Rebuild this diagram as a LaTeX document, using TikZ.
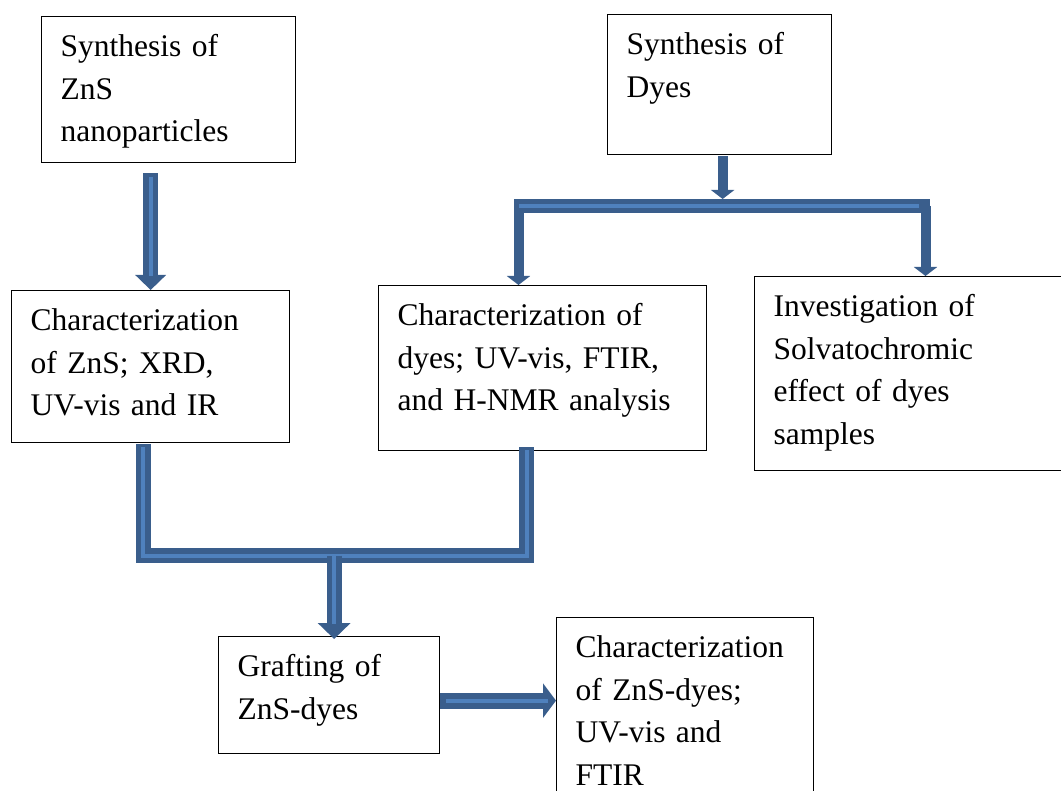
\documentclass[tikz,border=0pt]{standalone}
\usepackage{fontspec}
\setmainfont{Liberation Serif}
\usetikzlibrary{arrows.meta,calc}

\definecolor{pipedark}{RGB}{58,94,140}
\definecolor{pipelight}{RGB}{79,129,189}

\tikzset{
  stage/.style={draw=black, line width=1.3pt, anchor=north west, align=left,
    inner xsep=19pt, inner ysep=0pt, text height=40pt,
    font=\fontsize{31.5}{42.5}\selectfont},
  pipe/.style={draw=pipedark, line width=15pt, line join=miter},
  pipein/.style={draw=pipelight, line width=4pt, line join=miter},
  thinpipe/.style={draw=pipedark, line width=10pt, -{Triangle[width=23pt,length=9pt]}},
}

\begin{document}
\begin{tikzpicture}[x=1pt,y=-1pt]
			\useasboundingbox (0,0) rectangle (1061,791);
			\clip (0,0) rectangle (1061,791);

			\node[stage, text width=216pt, text depth=106pt] (zns) at (41,16) {Synthesis of\\ZnS\\nanoparticles};
			\node[stage, text width=186pt, text depth=100pt] (syndyes) at (607,14) {Synthesis of\\Dyes};
			\node[stage, text width=240pt, text depth=112pt] (charzns) at (11,290) {Characterization\\of ZnS; XRD,\\UV-vis and IR};
			\node[stage, text width=290pt, text depth=125pt] (chardyes) at (378,285) {Characterization of\\dyes; UV-vis, FTIR,\\and H-NMR analysis};
			\node[stage, text width=300pt, text depth=154pt] (solv) at (754,276) {Investigation of\\Solvatochromic\\effect of dyes\\samples};
			\node[stage, text width=183pt, text depth=77pt] (graft) at (218,636) {Grafting of\\ZnS-dyes};
			\node[stage, text width=219pt, text depth=160pt] (charfin) at (556,617) {Characterization\\of ZnS-dyes;\\UV-vis and\\FTIR};

			% ZnS branch
			\draw[pipe, -{Triangle[width=30pt,length=15pt]}] ([yshift=-10pt]charzns.north |- zns.south) -- (charzns.north);
			\draw[pipein] ([yshift=-14pt]charzns.north |- zns.south) -- ([yshift=14pt]charzns.north);

			% dyes branch
			\coordinate (barL) at (514,206);
			\coordinate (barR) at (930,206);
			\draw[thinpipe] ([xshift=3pt,yshift=-1pt]syndyes.south) -- ([xshift=3pt]syndyes.south |- 0,199);
			\draw[thinpipe] ([xshift=4.5pt]barL) -- ([xshift=4.5pt]barL |- chardyes.north);
			\draw[thinpipe] ([xshift=-4.5pt]barR) -- ([xshift=-4.5pt]barR |- solv.north);
			\draw[draw=pipedark, line width=14pt] (barL) -- (barR);
			\draw[pipein] ([xshift=5pt]barL) -- ([xshift=-11pt]barR);

			% joining both characterizations
			\coordinate (uL) at ([xshift=-7.5pt]charzns.south |- 0,555.5);
			\coordinate (uR) at ([xshift=-16pt]chardyes.south |- 0,555.5);
			\draw[pipe] ([xshift=-7.5pt,yshift=-1pt]charzns.south) -- (uL) -- (uR) -- ([xshift=-16pt,yshift=4pt]chardyes.south);
			\draw[pipein] ([xshift=-7.5pt,yshift=-4pt]charzns.south) -- (uL) -- (uR) -- ([xshift=-16pt,yshift=1pt]chardyes.south);

			\draw[pipe, -{Triangle[width=32pt,length=16pt]}] ([xshift=5pt]graft.north |- uL) -- ([xshift=5pt,yshift=-3pt]graft.north);
			\draw[pipein] ([xshift=5pt]graft.north |- uL) -- ([xshift=5pt,yshift=12pt]graft.north);

			% grafting to final characterization
			\draw[pipe, line width=16pt, -{Triangle[width=34pt,length=13pt]}] ([yshift=-5.5pt]graft.east) -- ([yshift=-5.5pt]graft.east -| charfin.west);
			\draw[pipein] ([xshift=6pt,yshift=-5.5pt]graft.east) -- ([xshift=-8pt,yshift=-5.5pt]graft.east -| charfin.west);
\end{tikzpicture}
\end{document}
